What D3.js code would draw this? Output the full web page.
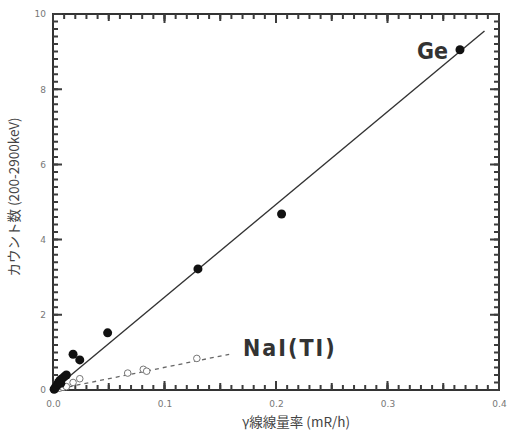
<!DOCTYPE html>
<html><head><meta charset="utf-8">
<script src="https://cdn.jsdelivr.net/npm/d3@7"></script>
<style>body{margin:0;background:#fff;}svg{display:block;}</style>
</head><body>
<svg id="c" width="509" height="432"></svg>
<script>
// Data
const geX = [0.001,0.002,0.003,0.004,0.005,0.006,0.007,0.008,0.010,0.012,0.018,0.024,0.049,0.130,0.205,0.365];
const geY = [0.02,0.06,0.10,0.15,0.20,0.25,0.18,0.30,0.35,0.40,0.95,0.80,1.52,3.22,4.68,9.05];
const naiX = [0.002,0.004,0.006,0.009,0.012,0.018,0.024,0.067,0.081,0.084,0.129];
const naiY = [0.02,0.04,0.05,0.07,0.09,0.20,0.30,0.45,0.55,0.50,0.84];
const geFit = {x0:0, y0:0, x1:0.387, y1:9.55};
const naiFit = {x0:0, y0:0, x1:0.158, y1:0.95};
const xTicks = [0.0,0.1,0.2,0.3,0.4];
const xTickLabels = ["0.0","0.1","0.2","0.3","0.4"];
const yTicks = [0,2,4,6,8,10];
const xTitle = "γ線線量率 (mR/h)";
const yTitle = "カウント数 (200-2900keV)";
const labelGe = "Ge", labelNaI = "NaI(TI)";

const svg = d3.select("#c");
const L=53, R=499, T=14, B=390;
const x = d3.scaleLinear().domain([0,0.4]).range([L,R]);
const y = d3.scaleLinear().domain([0,10]).range([B,T]);
const tickCol = "#3c3c3c", tickFont = "DejaVu Sans, sans-serif";

// frame
svg.append("rect").attr("x",L).attr("y",T).attr("width",R-L).attr("height",B-T)
 .attr("fill","none").attr("stroke","#333").attr("stroke-width",2);

// ticks as one path per set, built from the scales
const xMinor = d3.range(0,41).map(i=>i/100);
const xMid = d3.range(0,9).map(i=>i*0.05);
const yMinor = d3.range(0,51).map(i=>Math.round(i*2)/10);
function xTickPath(vals, len){
  return vals.map(v=>`M${x(v)},${B}V${B-len}M${x(v)},${T}V${T+len}`).join("");
}
function yTickPath(vals, len){
  return vals.map(v=>`M${L},${y(v)}H${L+len}M${R},${y(v)}H${R-len}`).join("");
}
const tg = svg.append("g").attr("class","ticks");
[[xTickPath(xMinor,5)],[xTickPath(xMid,7)],[xTickPath(xTicks,9)],[yTickPath(yMinor,5)],[yTickPath(yTicks,9)]]
 .forEach(([dstr])=>{
   tg.append("path").attr("d",dstr).attr("fill","none").attr("stroke",tickCol).attr("stroke-width",2);
 });

// tick labels via axes (labels only)
const xb = svg.append("g").attr("transform",`translate(0,${B})`)
 .call(d3.axisBottom(x).tickValues(xTicks).tickSize(0).tickFormat((d,i)=>xTickLabels[i]));
xb.select(".domain").remove();
xb.selectAll("text").attr("y",11).attr("font-family",tickFont).attr("font-size",9).attr("fill","#777");
const yl = svg.append("g").attr("transform",`translate(${L},0)`)
 .call(d3.axisLeft(y).tickValues(yTicks).tickSize(0).tickFormat(d=>d));
yl.select(".domain").remove();
yl.selectAll("text").attr("x",-7).attr("font-family",tickFont).attr("font-size",9).attr("fill","#777");

// titles
svg.append("text").attr("x",296).attr("y",427).attr("text-anchor","middle")
 .attr("font-family","Noto Sans CJK JP, sans-serif").attr("font-size",13.5).attr("fill","#444").text(xTitle);
svg.append("text").attr("transform","translate(19,197) rotate(-90)").attr("text-anchor","middle")
 .attr("font-family","Noto Sans CJK JP, sans-serif").attr("font-size",13.5).attr("fill","#444").text(yTitle);

// fit lines
svg.append("line").attr("x1",x(geFit.x0)).attr("y1",y(geFit.y0)).attr("x2",x(geFit.x1)).attr("y2",y(geFit.y1))
 .attr("stroke","#333").attr("stroke-width",1.4);
svg.append("line").attr("x1",x(naiFit.x0)).attr("y1",y(naiFit.y0)).attr("x2",x(naiFit.x1)).attr("y2",y(naiFit.y1))
 .attr("stroke","#666").attr("stroke-width",1.3).attr("stroke-dasharray","4,4");

// points
svg.append("g").selectAll("circle").data(naiX).join("circle").attr("cx",d=>x(d)).attr("cy",(d,i)=>y(naiY[i])).attr("r",3.3)
 .attr("fill","#fff").attr("stroke","#777").attr("stroke-width",1);
svg.append("g").selectAll("circle").data(geX).join("circle").attr("cx",d=>x(d)).attr("cy",(d,i)=>y(geY[i])).attr("r",4.5)
 .attr("fill","#111");

// labels
const lf = "Liberation Sans Narrow, DejaVu Sans Condensed, sans-serif";
svg.append("text").attr("x",417).attr("y",59).attr("font-family",lf).attr("font-weight","bold")
 .attr("font-size",23).attr("fill","#333").text(labelGe);
svg.append("text").attr("x",243).attr("y",356).attr("font-family",lf).attr("font-weight","bold")
 .attr("font-size",23).attr("fill","#333").attr("letter-spacing",2).text(labelNaI);
</script>
</body></html>
